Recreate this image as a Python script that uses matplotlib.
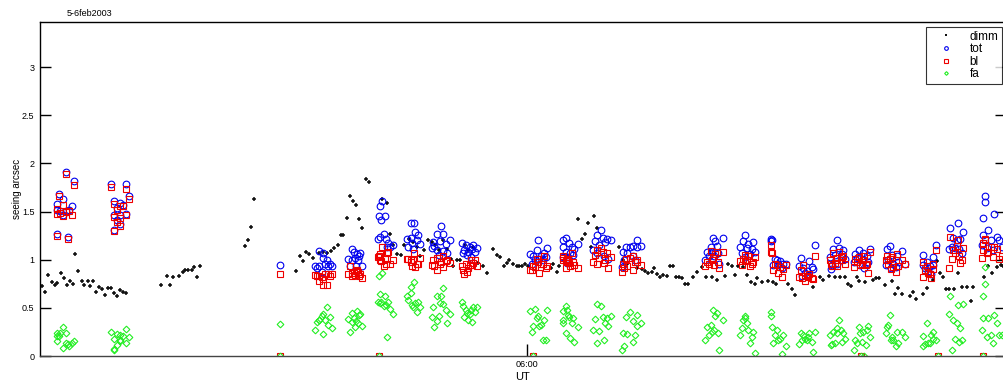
import matplotlib
matplotlib.use("Agg")
import matplotlib.pyplot as plt
import numpy as np

plt.rcParams['font.family'] = ['Liberation Sans', 'DejaVu Sans']

# DIMM seeing (UT hours, arcsec)
dimm_time = [1.15, 1.18, 1.21, 1.25, 1.28, 1.30, 1.34, 1.37, 1.40, 1.43, 1.46, 1.48, 1.51, 1.55,
             1.57, 1.61, 1.63, 1.66, 1.69, 1.72, 1.75, 1.78, 1.81, 1.84, 1.87, 1.90, 1.93, 1.96,
             1.99, 2.34, 2.40, 2.43, 2.46, 2.52, 2.56, 2.58, 2.61, 2.65, 2.67, 2.70, 2.73, 3.18,
             3.21, 3.24, 3.27, 3.69, 3.73, 3.76, 3.79, 3.82, 3.86, 3.92, 3.96, 4.00, 4.04, 4.07,
             4.11, 4.14, 4.16, 4.20, 4.23, 4.26, 4.29, 4.32, 4.35, 4.39, 4.42, 4.55, 4.60, 4.63,
             4.66, 4.70, 4.74, 4.77, 4.82, 4.86, 4.90, 4.93, 4.97, 5.01, 5.05, 5.08, 5.12, 5.16,
             5.20, 5.24, 5.26, 5.30, 5.33, 5.38, 5.41, 5.46, 5.51, 5.56, 5.60, 5.66, 5.70, 5.73,
             5.77, 5.80, 5.82, 5.86, 5.90, 5.92, 5.95, 5.98, 6.01, 6.24, 6.26, 6.30, 6.32, 6.51,
             6.55, 6.58, 6.61, 6.64, 6.67, 6.70, 6.92, 6.96, 7.00, 7.10, 7.15, 7.18, 7.21, 7.25,
             7.27, 7.30, 7.33, 7.36, 7.40, 7.43, 7.46, 7.49, 7.52, 7.55, 7.58, 7.61, 7.66, 7.70,
             7.75, 7.79, 7.85, 7.90, 7.98, 8.01, 8.05, 8.08, 8.11, 8.16, 8.20, 8.24, 8.28, 8.30,
             8.35, 8.41, 8.46, 8.49, 8.61, 8.65, 8.68, 8.86, 8.93, 8.96, 9.02, 9.08, 9.13, 9.18,
             9.21, 9.24, 9.30, 9.32, 9.38, 9.46, 9.49, 9.52, 9.58, 9.65, 9.68, 9.71, 9.75, 9.83,
             9.86, 9.89, 9.96, 10.00, 10.06, 10.10, 10.13, 10.16, 10.19, 10.22, 10.27, 10.31,
             10.35, 10.40, 10.44, 10.46, 10.57, 10.61, 10.65, 10.70, 10.74, 10.76]
dimm_seeing = [0.73, 0.67, 0.84, 0.77, 0.74, 0.76, 0.86, 0.81, 0.74, 0.78, 0.75, 1.06, 0.88, 0.78,
               0.74, 0.78, 0.73, 0.78, 0.67, 0.72, 0.70, 0.63, 0.71, 0.71, 0.65, 0.62, 0.69, 0.67,
               0.65, 0.74, 0.83, 0.74, 0.82, 0.83, 0.87, 0.89, 0.89, 0.89, 0.92, 0.82, 0.94, 1.14,
               1.20, 1.34, 1.63, 0.886, 1.04, 0.986, 1.08, 1.06, 1.02, 1.07, 1.08, 1.07, 1.09, 1.12,
               1.15, 1.26, 1.26, 1.43, 1.66, 1.61, 1.57, 1.42, 1.33, 1.84, 1.81, 1.63, 1.59, 1.27,
               1.15, 1.06, 1.05, 1.15, 1.22, 1.18, 1.13, 1.04, 1.10, 1.20, 1.18, 1.15, 1.10, 1.21,
               1.11, 1.01, 0.93, 1.00, 1.00, 1.15, 1.10, 1.13, 0.97, 0.93, 0.86, 1.11, 1.05, 1.03,
               0.93, 0.97, 1.00, 0.96, 0.94, 0.94, 0.93, 0.955, 0.93, 0.91, 0.96, 0.875, 0.93, 1.42,
               1.22, 1.27, 1.38, 1.13, 1.45, 1.33, 1.13, 1.00, 0.96, 0.91, 0.90, 0.886, 0.865, 0.875,
               0.91, 0.85, 0.82, 0.84, 0.83, 0.93, 0.93, 0.82, 0.82, 0.81, 0.75, 0.75, 0.82, 0.875,
               0.92, 0.82, 0.82, 0.79, 0.83, 0.955, 0.93, 0.84, 0.93, 0.92, 0.84, 0.77, 0.75, 0.81,
               0.77, 0.78, 0.77, 0.75, 0.75, 0.70, 0.63, 0.72, 0.82, 0.79, 0.83, 0.82, 0.82, 0.82,
               0.75, 0.73, 0.82, 0.78, 0.77, 0.79, 0.81, 0.81, 0.74, 0.78, 0.64, 0.71, 0.64, 0.62,
               0.67, 0.59, 0.64, 0.71, 0.79, 0.99, 0.865, 0.82, 0.70, 0.70, 0.70, 0.865,
               0.72, 0.72, 0.57, 0.72, 0.82, 0.93, 0.86, 0.92, 0.945, 0.93]

# profiler measurements: total, boundary layer, free atmosphere (one line per run)
prof_time = [
    1.39, 1.47, 1.32, 1.36, 1.30, 1.30, 1.33, 1.39, 1.42, 1.45, 1.36, 1.30, 1.41,
    1.84, 1.99, 2.02, 1.87, 1.93, 1.96, 1.90, 1.87, 1.93, 1.99, 1.90, 1.93, 1.87,
    3.53,
    3.92, 3.96, 4.00, 4.03, 3.98, 3.90, 3.88, 3.92, 4.01, 3.95, 4.05, 3.96,
    4.25, 4.27, 4.30, 4.33, 4.21, 4.25, 4.28, 4.31, 4.35, 4.23, 4.29, 4.32,
    4.55, 4.53, 4.52, 4.58, 4.54, 4.53, 4.57, 4.59, 4.61, 4.63, 4.66, 4.60, 4.51,
    4.84, 4.87, 4.80, 4.84, 4.88, 4.91, 4.90, 4.85, 4.81, 4.86, 4.93,
    5.14, 5.10, 5.16, 5.06, 5.13, 5.19, 5.23, 5.05, 5.10, 5.16, 5.20, 5.12, 5.07,
    5.35, 5.39, 5.43, 5.46, 5.50, 5.37, 5.41, 5.45, 5.48, 5.40, 5.44, 5.36,
    6.11, 6.20, 6.03, 6.06, 6.10, 6.14, 6.17, 6.08, 6.12, 6.16, 6.19, 6.05,
    6.39, 6.36, 6.42, 6.36, 6.45, 6.51, 6.39, 6.43, 6.47, 6.36, 6.41, 6.46, 6.40,
    6.74, 6.70, 6.76, 6.80, 6.84, 6.68, 6.72, 6.78, 6.66, 6.70, 6.77, 6.81,
    7.10, 6.99, 7.03, 7.06, 7.10, 7.14, 6.96, 7.00, 7.06, 6.97, 7.08, 6.95,
    7.86, 7.88, 7.96, 7.84, 7.90, 7.80, 7.85, 7.91, 7.82, 7.87, 7.78, 7.92,
    8.18, 8.16, 8.21, 8.26, 8.13, 8.20, 8.25, 8.15, 8.23, 8.28, 8.18,
    8.44, 8.44, 8.45, 8.48, 8.50, 8.53, 8.56, 8.59, 8.46, 8.51, 8.55,
    8.74, 8.82, 8.88, 8.76, 8.80, 8.85, 8.72, 8.78, 8.86, 8.75, 8.81,
    9.10, 9.06, 9.12, 9.16, 9.03, 9.08, 9.15, 9.18, 9.05, 9.10, 9.14, 9.04,
    9.32, 9.43, 9.28, 9.36, 9.40, 9.30, 9.35, 9.39, 9.27, 9.33, 9.41, 9.37,
    9.63, 9.60, 9.75, 9.65, 9.70, 9.61, 9.66, 9.71, 9.64, 9.69, 9.78, 9.59,
    9.96, 10.06, 10.09, 10.00, 10.03, 9.98, 10.01, 10.06, 9.96, 10.04,
    10.23, 10.31, 10.36, 10.26, 10.30, 10.33, 10.22, 10.28, 10.32, 10.35, 10.25,
    10.58, 10.58, 10.56, 10.67, 10.61, 10.56, 10.70, 10.64, 10.55, 10.60, 10.66, 10.72, 10.75,
]
prof_tot = [
    1.91, 1.82, 1.68, 1.63, 1.58, 1.52, 1.51, 1.51, 1.52, 1.56, 1.46, 1.27, 1.24,
    1.79, 1.79, 1.66, 1.61, 1.59, 1.57, 1.54, 1.47, 1.46, 1.48, 1.41, 1.37, 1.31,
    0.945,
    1.09, 1.07, 1.00, 0.96, 0.96, 0.91, 0.93, 0.94, 0.93, 0.875, 0.94, 1.02,
    1.11, 1.08, 1.06, 1.07, 1.01, 1.00, 1.02, 1.00, 0.93, 0.94, 0.93, 1.04,
    1.61, 1.56, 1.45, 1.45, 1.41, 1.24, 1.27, 1.22, 1.17, 1.13, 1.15, 1.13, 1.22,
    1.38, 1.38, 1.22, 1.23, 1.29, 1.26, 1.20, 1.17, 1.13, 1.11, 1.16,
    1.35, 1.27, 1.27, 1.18, 1.19, 1.16, 1.20, 1.12, 1.10, 1.09, 1.07, 1.05, 1.14,
    1.17, 1.15, 1.13, 1.15, 1.12, 1.10, 1.08, 1.11, 1.08, 1.05, 1.03, 1.07,
    1.20, 1.12, 1.06, 1.04, 1.10, 1.04, 1.07, 1.00, 1.01, 1.00, 1.03, 0.96,
    1.23, 1.20, 1.17, 1.13, 1.13, 1.16, 1.08, 1.07, 1.11, 1.03, 1.03, 1.05, 0.97,
    1.31, 1.26, 1.23, 1.22, 1.20, 1.19, 1.15, 1.18, 1.10, 1.07, 1.04, 1.01,
    1.20, 1.13, 1.13, 1.14, 1.13, 1.14, 1.08, 1.07, 1.04, 1.00, 1.00, 0.92,
    1.23, 1.19, 1.23, 1.13, 1.14, 1.08, 1.08, 1.07, 1.04, 1.04, 1.00, 0.96,
    1.26, 1.19, 1.16, 1.18, 1.13, 1.12, 1.11, 1.07, 1.06, 1.08, 1.03,
    1.22, 1.19, 1.21, 1.01, 1.00, 0.99, 0.96, 0.955, 0.945, 0.96, 0.91,
    1.02, 0.99, 1.15, 0.91, 0.886, 0.92, 0.93, 0.865, 0.90, 0.83, 0.84,
    1.20, 1.11, 1.12, 1.10, 1.03, 1.05, 1.06, 1.01, 0.945, 0.96, 1.00, 0.90,
    1.10, 1.11, 1.06, 1.07, 1.04, 1.02, 1.00, 0.96, 0.98, 0.945, 0.98, 0.91,
    1.14, 1.11, 1.09, 1.05, 1.04, 1.00, 0.96, 0.98, 0.91, 0.92, 0.955, 0.945,
    1.05, 1.03, 1.15, 0.98, 0.93, 0.91, 0.886, 0.945, 0.945, 0.85,
    1.33, 1.38, 1.29, 1.23, 1.20, 1.22, 1.11, 1.12, 1.11, 1.07, 1.13,
    1.66, 1.60, 1.43, 1.48, 1.31, 1.26, 1.24, 1.20, 1.15, 1.12, 1.10, 1.21, 1.13,
]
prof_bl = [
    1.89, 1.78, 1.66, 1.57, 1.53, 1.48, 1.49, 1.50, 1.51, 1.47, 1.45, 1.25, 1.22,
    1.76, 1.74, 1.63, 1.58, 1.56, 1.56, 1.52, 1.44, 1.43, 1.46, 1.39, 1.35, 1.30,
    0.855,
    0.78, 0.74, 0.74, 0.83, 0.85, 0.83, 0.84, 0.83, 0.85, 0.82, 0.85, 0.80,
    0.83, 0.865, 0.89, 0.85, 0.85, 0.865, 0.84, 0.875, 0.81, 0.93, 0.885, 0.83,
    1.13, 1.06, 1.04, 1.01, 0.99, 1.00, 0.94, 0.955, 1.08, 0.96, 1.00, 1.07, 1.03,
    0.98, 1.07, 1.01, 1.00, 0.92, 0.96, 0.96, 0.93, 1.01, 1.00, 1.02,
    0.98, 1.02, 1.04, 1.00, 0.955, 0.99, 0.97, 0.945, 0.89, 0.92, 1.00, 1.02, 0.93,
    0.93, 0.96, 0.945, 0.97, 0.93, 0.85, 0.91, 0.945, 1.00, 0.875, 1.00, 0.89,
    0.98, 0.93, 0.89, 0.93, 1.01, 0.955, 1.04, 0.92, 0.865, 0.96, 0.91, 0.89,
    0.99, 1.00, 0.97, 1.02, 1.07, 0.91, 0.91, 0.93, 0.945, 1.04, 1.00, 0.98, 1.01,
    1.12, 1.10, 1.08, 1.07, 1.03, 1.05, 1.02, 1.00, 0.98, 0.96, 0.97, 0.91,
    0.98, 1.01, 1.02, 1.04, 1.00, 0.945, 0.96, 0.93, 0.89, 0.91, 0.98, 0.875,
    1.02, 1.06, 1.08, 1.09, 1.08, 0.98, 1.00, 0.98, 0.96, 0.945, 0.93, 0.91,
    1.05, 1.01, 1.04, 0.98, 0.99, 1.00, 0.96, 0.945, 0.93, 1.03, 0.99,
    1.15, 1.08, 1.07, 0.96, 0.945, 0.92, 0.90, 0.945, 0.89, 0.865, 0.82,
    0.89, 0.85, 1.04, 0.945, 0.83, 0.81, 0.82, 0.78, 0.80, 0.81, 0.82,
    1.02, 1.07, 1.08, 1.04, 1.00, 0.97, 1.00, 0.96, 0.93, 0.93, 1.03, 0.955,
    1.03, 1.08, 1.01, 1.00, 0.96, 0.98, 0.96, 0.945, 0.92, 0.945, 0.865, 1.04,
    1.01, 1.04, 1.00, 1.03, 1.06, 0.96, 0.92, 0.93, 0.90, 0.875, 0.96, 1.00,
    0.98, 0.96, 1.10, 0.93, 0.85, 0.89, 0.865, 0.90, 0.82, 0.81,
    1.24, 1.21, 1.12, 1.10, 1.14, 0.97, 0.91, 1.07, 1.04, 1.00, 1.01,
    1.20, 1.22, 1.17, 1.13, 1.08, 1.10, 1.11, 1.13, 1.02, 1.07, 1.03, 1.01, 1.04,
]
prof_fa = [
    0.24, 0.16, 0.21, 0.30, 0.21, 0.16, 0.24, 0.14, 0.10, 0.13, 0.08, 0.24, 0.12,
    0.25, 0.28, 0.20, 0.18, 0.22, 0.21, 0.11, 0.06, 0.16, 0.13, 0.23, 0.17, 0.07,
    0.33,
    0.37, 0.44, 0.51, 0.41, 0.37, 0.35, 0.27, 0.37, 0.32, 0.42, 0.29, 0.23,
    0.45, 0.39, 0.47, 0.44, 0.38, 0.35, 0.30, 0.34, 0.31, 0.25, 0.36, 0.43,
    0.865, 0.64, 0.83, 0.62, 0.56, 0.55, 0.52, 0.53, 0.56, 0.49, 0.44, 0.20, 0.56,
    0.72, 0.77, 0.62, 0.65, 0.55, 0.56, 0.46, 0.53, 0.58, 0.51, 0.51,
    0.62, 0.62, 0.71, 0.51, 0.55, 0.48, 0.44, 0.41, 0.36, 0.54, 0.34, 0.42, 0.30,
    0.56, 0.48, 0.44, 0.51, 0.51, 0.40, 0.37, 0.35, 0.46, 0.45, 0.48, 0.52,
    0.415, 0.48, 0.47, 0.31, 0.39, 0.32, 0.37, 0.49, 0.31, 0.17, 0.17, 0.25,
    0.52, 0.47, 0.41, 0.37, 0.34, 0.30, 0.24, 0.19, 0.15, 0.34, 0.43, 0.39, 0.48,
    0.52, 0.54, 0.41, 0.39, 0.415, 0.38, 0.26, 0.34, 0.27, 0.14, 0.17, 0.31,
    0.43, 0.41, 0.46, 0.36, 0.31, 0.34, 0.24, 0.23, 0.15, 0.10, 0.22, 0.06,
    0.48, 0.415, 0.37, 0.32, 0.45, 0.30, 0.25, 0.235, 0.22, 0.27, 0.17, 0.06,
    0.415, 0.37, 0.27, 0.25, 0.22, 0.34, 0.20, 0.29, 0.14, 0.035, 0.39,
    0.46, 0.415, 0.30, 0.22, 0.27, 0.18, 0.22, 0.10, 0.14, 0.17, 0.02,
    0.24, 0.235, 0.25, 0.22, 0.17, 0.15, 0.125, 0.18, 0.045, 0.17, 0.20,
    0.24, 0.25, 0.37, 0.24, 0.22, 0.14, 0.15, 0.18, 0.125, 0.29, 0.27, 0.11,
    0.30, 0.20, 0.17, 0.25, 0.27, 0.13, 0.15, 0.11, 0.06, 0.235, 0.31, 0.0,
    0.43, 0.30, 0.25, 0.20, 0.25, 0.32, 0.17, 0.14, 0.17, 0.10, 0.20, 0.235,
    0.21, 0.18, 0.17, 0.34, 0.14, 0.125, 0.14, 0.25, 0.10, 0.22,
    0.62, 0.53, 0.54, 0.37, 0.34, 0.29, 0.44, 0.18, 0.15, 0.17, 0.06,
    0.92, 0.75, 0.62, 0.43, 0.39, 0.39, 0.34, 0.22, 0.27, 0.20, 0.13, 0.22, 0.22,
]

# runs where only zeros were recorded
zero_time = [3.53, 4.52, 6.06, 9.34, 10.11, 10.56]
zero_bl = [0.0, 0.0, 0.0, 0.0, 0.0, 0.0]
zero_fa = [0.0, 0.0, 0.0, 0.0, 0.0, 0.0]

fig = plt.figure(figsize=(10.04, 3.87), dpi=100)
ax = fig.add_axes([40 / 1004, 31 / 387, 966 / 1004, 334 / 387])

ax.plot(dimm_time, dimm_seeing, '+', color='#111111', ms=3.5, mew=1.1, label='dimm')
ax.plot(prof_time, prof_tot, 'o', mfc='none', mec='#0000ee', ms=4.8, mew=0.8, label='tot')
ax.plot(prof_time, prof_bl, 's', mfc='none', mec='#ee0000', ms=4.4, mew=0.8, label='bl')
ax.plot(zero_time, zero_bl, 's', mfc='none', mec='#ee0000', ms=4.4, mew=0.8)
ax.plot(prof_time, prof_fa, 'D', mfc='none', mec='#22ee22', ms=3.4, mew=0.8, label='fa')
ax.plot(zero_time, zero_fa, 'D', mfc='none', mec='#22ee22', ms=3.4, mew=0.8)

ax.set_xlim(1.13, 10.79)
ax.set_ylim(0, 3.47)
ax.set_yticks([0, 0.5, 1, 1.5, 2, 2.5, 3])
ax.set_yticklabels(['0', '0.5', '1', '1.5', '2', '2.5', '3'])
ax.set_xticks([6.0])
ax.set_xticklabels(['06:00'])
ax.tick_params(axis='y', direction='in', length=8, width=1, labelsize=6.5, pad=4,
               right=True)
ax.tick_params(axis='x', direction='in', length=9, width=1, labelsize=6.5, pad=3)
for s in ax.spines.values():
    s.set_linewidth(1)
ax.spines['bottom'].set_color('#444444')

ax.set_ylabel('seeing arcsec', fontsize=7, labelpad=0)
ax.set_xlabel('UT', fontsize=8, labelpad=2)
fig.text(67 / 1004, 1 - 14 / 387, '5-6feb2003', fontsize=6.5, ha='left', va='center')

leg = ax.legend(loc='upper right', bbox_to_anchor=(1002 / 1004, 1 - 27 / 387),
                bbox_transform=fig.transFigure, fontsize=8.5, frameon=True,
                fancybox=False, edgecolor='black', markerscale=0.55,
                handlelength=2.8, handletextpad=0.6, labelspacing=0.05,
                borderpad=0.3, borderaxespad=0)
leg.get_frame().set_linewidth(0.8)

fig.savefig('out.png', dpi=100)
